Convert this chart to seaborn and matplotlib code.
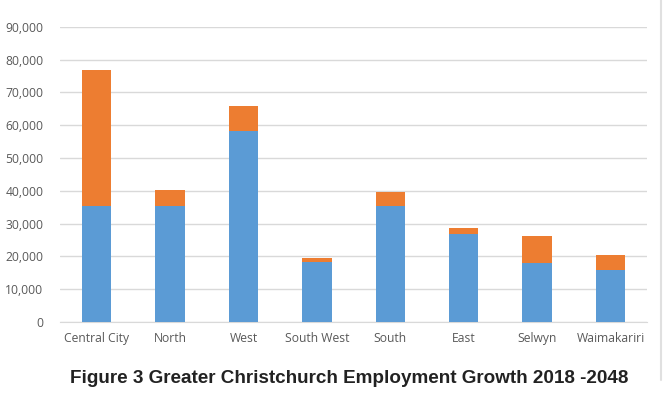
import pandas as pd
import matplotlib
matplotlib.use("Agg")
import matplotlib.pyplot as plt
import seaborn as sns
from matplotlib.lines import Line2D
from matplotlib.ticker import FuncFormatter

# values
areas = ["Central City", "North", "West", "South West", "South", "East", "Selwyn", "Waimakariri"]
employment_2018 = [35300, 35300, 58300, 18400, 35300, 26900, 18100, 15900]
growth_to_2048 = [41700, 5100, 7500, 1100, 4200, 1800, 8200, 4500]

df = pd.DataFrame({"area": areas, "base": employment_2018, "growth": growth_to_2048})
df["total"] = df["base"] + df["growth"]

sns.set_style("white")
plt.rcParams["font.family"] = ["Open Sans", "DejaVu Sans"]

fig = plt.figure(figsize=(6.65, 3.96), dpi=100)
ax = fig.add_axes([0.0902, 0.187, 0.883, 0.745])

blue = "#5B9BD5"
orange = "#ED7D31"

sns.barplot(data=df, x="area", y="total", color=orange, width=0.4, saturation=1,
            linewidth=0, ax=ax, zorder=3)
sns.barplot(data=df, x="area", y="base", color=blue, width=0.4, saturation=1,
            linewidth=0, ax=ax, zorder=3)

ax.set_ylim(0, 90000)
ax.set_yticks(range(0, 90001, 10000))
ax.yaxis.set_major_formatter(FuncFormatter(lambda v, p: f"{int(v):,}"))
ax.grid(axis="y", color="#D9D9D9", linewidth=1, zorder=0)
ax.grid(axis="x", visible=False)
for s in ["top", "right", "left"]:
    ax.spines[s].set_visible(False)
ax.spines["bottom"].set_color("#D9D9D9")
ax.set_xlabel("")
ax.set_ylabel("")
ax.tick_params(axis="both", length=0, labelsize=8.7, labelcolor="#595959")
ax.tick_params(axis="x", pad=7)
ax.tick_params(axis="y", pad=12)

# faint frame line on the right edge of the picture
fig.add_artist(Line2D([0.994, 0.994], [0.04, 1.0], color="#E0E0E0", linewidth=1.5, transform=fig.transFigure))

fig.text(0.525, 0.045, "Figure 3 Greater Christchurch Employment Growth 2018 -2048",
         ha="center", va="center", fontsize=13.6, fontweight="bold",
         color="#222222", family=["Liberation Sans", "DejaVu Sans"])

plt.savefig("out.png", dpi=100)
